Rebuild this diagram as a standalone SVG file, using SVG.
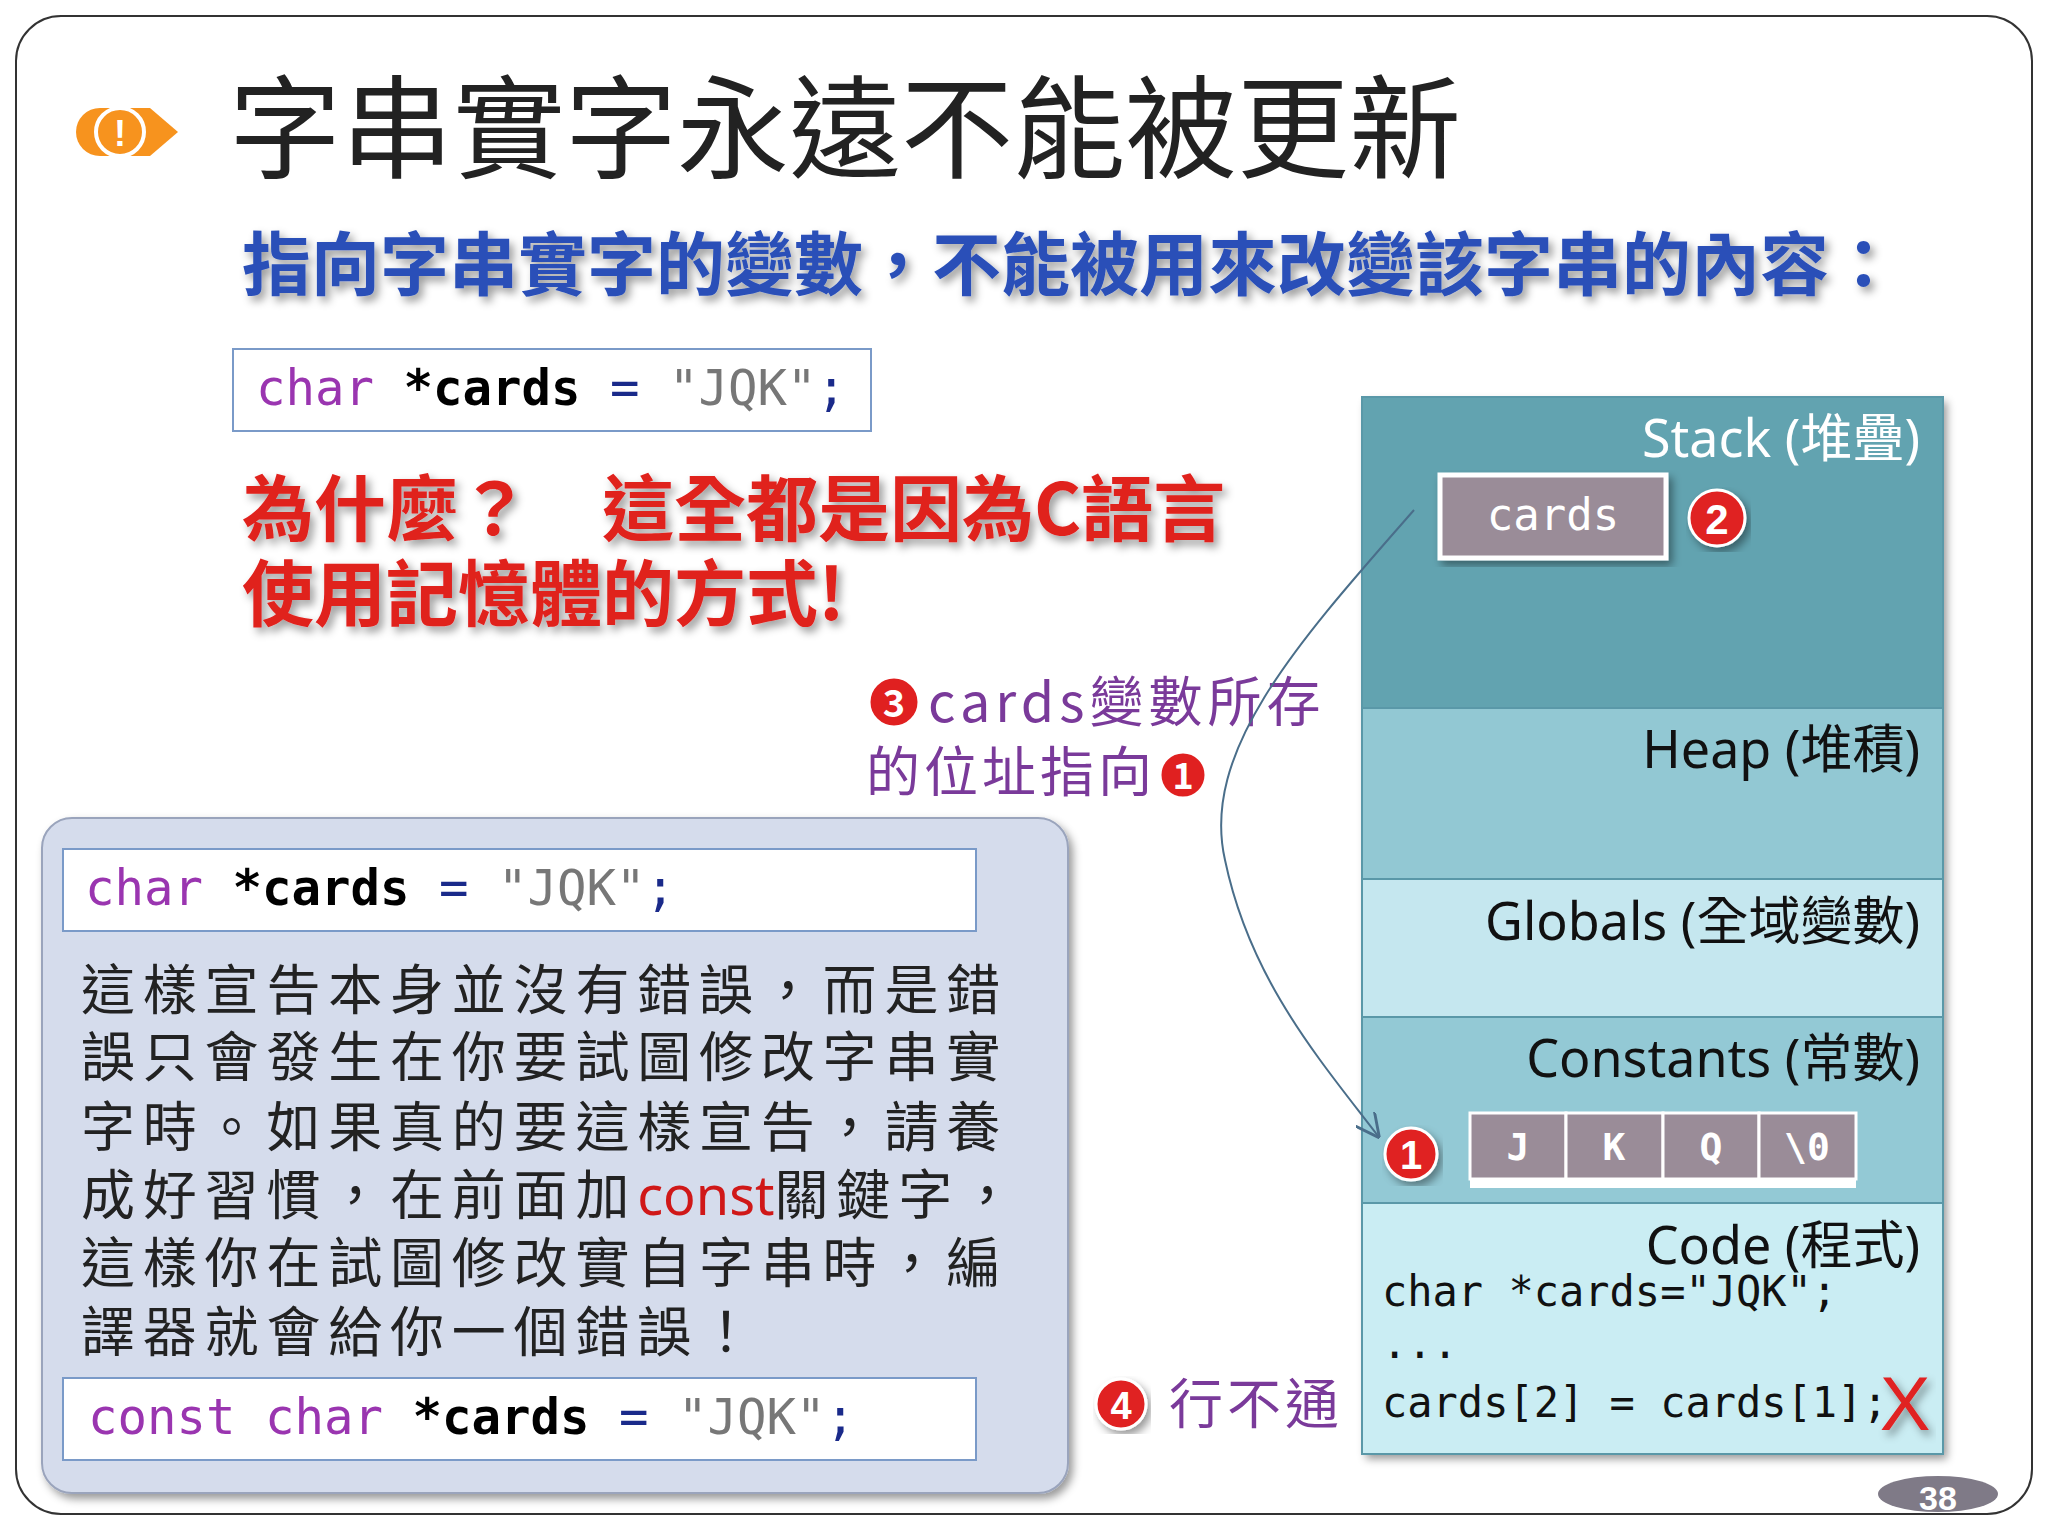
<svg xmlns="http://www.w3.org/2000/svg" width="2048" height="1536" viewBox="0 0 2048 1536">
<defs>
<style>
.mono{font-family:"DejaVu Sans Mono","Liberation Mono",monospace}
.cjk{font-family:"Noto Sans CJK TC","Noto Sans",sans-serif}
.lbl{font-family:"Noto Sans","Noto Sans CJK TC",sans-serif;font-size:52px;text-anchor:end}
.kw{fill:#9a35b0}.op{fill:#1a2a8a}.str{fill:#777}
.cell{fill:#9a8c98;stroke:#fff;stroke-width:3}
.celltxt{font-family:"DejaVu Sans Mono",monospace;font-size:38px;font-weight:bold;fill:#fff;text-anchor:middle}
.para{font-family:"Noto Sans CJK TC",sans-serif;font-size:54px;fill:#222;letter-spacing:7.8px}
</style>
<marker id="ah" viewBox="0 0 10 10" refX="9" refY="5" markerWidth="12" markerHeight="12" orient="auto"><path d="M0,0 L10,5 L0,10" fill="none" stroke="#4a6e8a" stroke-width="1.2"/></marker>
<filter id="sh" x="-5%" y="-5%" width="115%" height="115%"><feDropShadow dx="4" dy="5" stdDeviation="4" flood-opacity="0.4"/></filter>
</defs>
<rect x="0" y="0" width="2048" height="1536" fill="#fff"/>
<rect x="16" y="16" width="2016" height="1498" rx="45" fill="none" stroke="#333" stroke-width="2"/>

<g id="title">
<path d="M100,108 h50 l28,24 l-28,24 h-50 a24,24 0 0 1 0,-48z" fill="#f7931e"/>
<circle cx="120" cy="132" r="24" fill="#f7931e" stroke="#fff" stroke-width="4"/>
<text x="120" y="146" font-family="Liberation Sans,sans-serif" font-size="36" font-weight="bold" fill="#fff" text-anchor="middle">!</text>
<text x="229" y="170" class="cjk" font-size="112" fill="#222">字串實字永遠不能被更新</text>
</g>
<g id="subtitle">
<text x="242" y="290" class="cjk" font-size="69" font-weight="bold" fill="#2a50b8" filter="url(#sh)">指向字串實字的變數，不能被用來改變該字串的內容：</text>
</g>
<g id="code1">
<rect x="233" y="349" width="638" height="82" fill="#fff" stroke="#7a9ac8" stroke-width="2"/>
<text x="256" y="405" class="mono" font-size="49"><tspan class="kw">char</tspan> <tspan font-weight="bold">*cards</tspan> <tspan class="op">=</tspan> <tspan class="str">"JQK"</tspan><tspan class="op">;</tspan></text>
</g>
<g id="why" class="cjk" font-size="72" font-weight="bold" fill="#e0201e" filter="url(#sh)">
<text x="242" y="535">為什麼？　這全都是因為C語言</text>
<text x="242" y="620">使用記憶體的方式!</text>
</g>
<g id="note3" class="cjk" font-size="54" fill="#7a3a9a">
<circle cx="894" cy="702" r="25" fill="#e02020" stroke="#fff" stroke-width="3"/>
<text x="894" y="717" font-size="38" font-weight="bold" fill="#fff" text-anchor="middle">3</text>
<text x="928" y="722" letter-spacing="5">cards變數所存</text>
<text x="866" y="792" letter-spacing="4">的位址指向</text>
<circle cx="1183" cy="775" r="23" fill="#e02020" stroke="#fff" stroke-width="3"/>
<text x="1183" y="789" font-size="36" font-weight="bold" fill="#fff" text-anchor="middle">1</text>
</g>

<g id="memory">
<rect x="1362" y="397" width="581" height="1057" fill="#62a3b0" filter="url(#sh)"/>
<rect x="1362" y="397" width="581" height="311" fill="#62a3b0"/>
<rect x="1362" y="708" width="581" height="171" fill="#92c8d3"/>
<rect x="1362" y="879" width="581" height="138" fill="#c5e7ef"/>
<rect x="1362" y="1017" width="581" height="186" fill="#93c9d5"/>
<rect x="1362" y="1203" width="581" height="251" fill="#caedf3"/>
<g stroke="#5a98a8" stroke-width="2"><line x1="1362" y1="708" x2="1943" y2="708"/><line x1="1362" y1="879" x2="1943" y2="879"/><line x1="1362" y1="1017" x2="1943" y2="1017"/><line x1="1362" y1="1203" x2="1943" y2="1203"/></g>
<rect x="1362" y="397" width="581" height="1057" fill="none" stroke="#5a98a8" stroke-width="2"/>
<text x="1920" y="457" class="lbl" fill="#fff">Stack (堆疊)</text>
<text x="1920" y="768" class="lbl" fill="#111">Heap (堆積)</text>
<text x="1920" y="940" class="lbl" fill="#111">Globals (全域變數)</text>
<text x="1920" y="1077" class="lbl" fill="#111">Constants (常數)</text>
<text x="1920" y="1264" class="lbl" fill="#111">Code (程式)</text>
</g>
<g id="cards">
<rect x="1440" y="475" width="226" height="83" fill="#9a8c98" stroke="#fff" stroke-width="5" filter="url(#sh)"/>
<text x="1553" y="530" class="mono" font-size="44" fill="#fff" text-anchor="middle">cards</text>
<circle cx="1717" cy="518" r="28" fill="#e02020" stroke="#fff" stroke-width="3" filter="url(#sh)"/>
<text x="1717" y="534" font-family="Liberation Sans,sans-serif" font-size="42" font-weight="bold" fill="#fff" text-anchor="middle">2</text>
</g>
<g id="constants">
<rect x="1470" y="1113" width="386" height="75" fill="#fff"/>
<rect class="cell" x="1470" y="1113" width="96" height="66"/>
<rect class="cell" x="1566" y="1113" width="97" height="66"/>
<rect class="cell" x="1663" y="1113" width="96" height="66"/>
<rect class="cell" x="1759" y="1113" width="97" height="66"/>
<text class="celltxt" x="1518" y="1160">J</text>
<text class="celltxt" x="1614" y="1160">K</text>
<text class="celltxt" x="1711" y="1160">Q</text>
<text class="celltxt" x="1807" y="1160">\0</text>
<circle cx="1411" cy="1154" r="26" fill="#e02020" stroke="#fff" stroke-width="3" filter="url(#sh)"/>
<text x="1411" y="1169" font-family="Liberation Sans,sans-serif" font-size="40" font-weight="bold" fill="#fff" text-anchor="middle">1</text>
</g>
<g id="code" class="mono" font-size="42" fill="#111">
<text x="1382" y="1306">char *cards="JQK";</text>
<text x="1382" y="1358">...</text>
<text x="1382" y="1417">cards[2] = cards[1];</text>
<text x="1905" y="1430" font-family="Liberation Sans,sans-serif" font-size="76" fill="#e02020" text-anchor="middle" filter="url(#sh)">X</text>
</g>

<g id="connectors">
<path d="M1414,510 C1300,640 1200,750 1225,860 C1250,980 1320,1060 1378,1136" fill="none" stroke="#4a6e8a" stroke-width="2" marker-end="url(#ah)"/>
</g>

<g id="leftbox">
<rect x="42" y="818" width="1026" height="675" rx="30" fill="#d5dcec" stroke="#9aa4bc" stroke-width="2" filter="url(#sh)"/>
<rect x="63" y="849" width="913" height="82" fill="#fff" stroke="#7a9ac8" stroke-width="2"/>
<text x="85" y="905" class="mono" font-size="49"><tspan class="kw">char</tspan> <tspan font-weight="bold">*cards</tspan> <tspan class="op">=</tspan> <tspan class="str">"JQK"</tspan><tspan class="op">;</tspan></text>
<text class="para" x="81" y="1010">這樣宣告本身並沒有錯誤，而是錯</text>
<text class="para" x="81" y="1077">誤只會發生在你要試圖修改字串實</text>
<text class="para" x="81" y="1147">字時。如果真的要這樣宣告，請養</text>
<text class="para" x="81" y="1215">成好習慣，在前面加<tspan fill="#d01818" font-family="Noto Sans,sans-serif" letter-spacing="0">const</tspan>關鍵字，</text>
<text class="para" x="81" y="1283">這樣你在試圖修改實自字串時，編</text>
<text class="para" x="81" y="1352">譯器就會給你一個錯誤！</text>
<rect x="63" y="1378" width="913" height="82" fill="#fff" stroke="#7a9ac8" stroke-width="2"/>
<text x="88" y="1434" class="mono" font-size="49"><tspan class="kw">const char</tspan> <tspan font-weight="bold">*cards</tspan> <tspan class="op">=</tspan> <tspan class="str">"JQK"</tspan><tspan class="op">;</tspan></text>
</g>

<g id="note4">
<circle cx="1121" cy="1404" r="25" fill="#e02020" stroke="#fff" stroke-width="3" filter="url(#sh)"/>
<text x="1121" y="1419" font-family="Liberation Sans,sans-serif" font-size="38" font-weight="bold" fill="#fff" text-anchor="middle">4</text>
<text x="1169" y="1424" class="cjk" font-size="54" fill="#7a3a9a" letter-spacing="4">行不通</text>
</g>
<g id="page">
<ellipse cx="1938" cy="1494" rx="60" ry="18" fill="#7f7a87"/>
<text x="1938" y="1510" font-family="Liberation Sans,sans-serif" font-size="34" font-weight="bold" fill="#fff" text-anchor="middle">38</text>
</g>
</svg>
